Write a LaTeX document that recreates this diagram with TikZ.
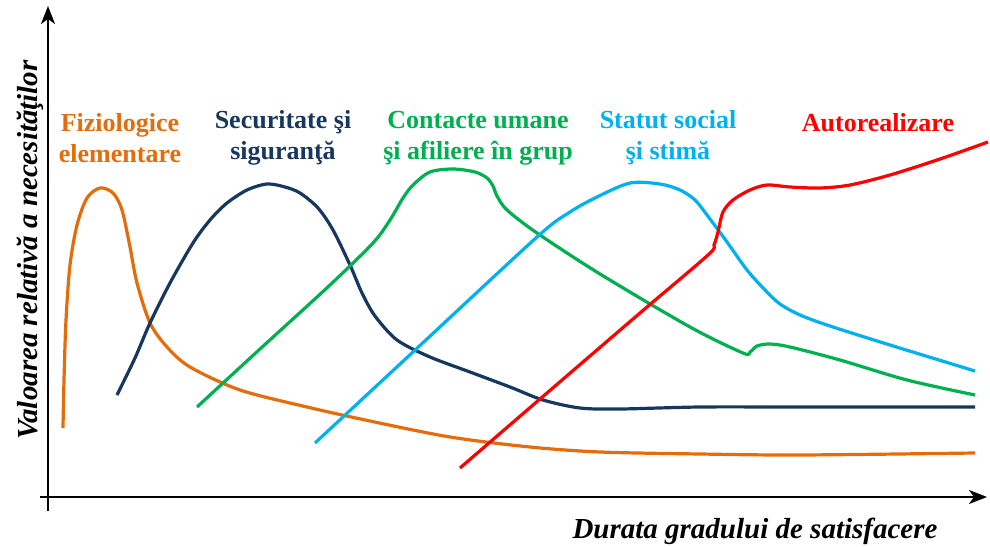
\documentclass[tikz,border=0pt]{standalone}
\usepackage{fontspec}
\setmainfont{Liberation Serif}
\usetikzlibrary{arrows.meta}

\definecolor{cfizio}{HTML}{E46C0A}
\definecolor{csecur}{HTML}{17375E}
\definecolor{ccontact}{HTML}{00B050}
\definecolor{cstatut}{HTML}{00B0F0}
\definecolor{cauto}{HTML}{FF0000}

\tikzset{
  axisline/.style={line width=2.2pt, -{Stealth[length=18pt,width=14pt,inset=5pt]}},
  curve/.style={line width=3.2pt, line cap=butt, line join=round},
  needlabel/.style={font=\fontsize{26}{31}\selectfont\bfseries, align=center},
  axislabel/.style={font=\fontsize{29}{33}\selectfont\bfseries\itshape}
}

\begin{document}
\begin{tikzpicture}[x=1pt,y=-1pt]
    \useasboundingbox (0,0) rectangle (990,546);

    %axes
    \coordinate (ystart) at (48,511);
    \coordinate (yend) at (48,6);
    \coordinate (xstart) at (40,497);
    \coordinate (xend) at (987,497);
    \draw[axisline] (ystart) -- (yend);
    \draw[axisline] (xstart) -- (xend);
    \node[axislabel, rotate=90, anchor=base] (ylabel) at (37,250) {Valoarea relativă a necesităţilor};
    \node[axislabel, anchor=base] (xlabel) at (755,538) {Durata gradului de satisfacere};

    %curves
    \draw[curve, cfizio] plot[smooth, tension=0.5] coordinates {(63,428) (64,380) (66,320) (70,265) (77,225) (87,198) (100,188) (113,193) (122,210) (130,247) (137,283) (150,323) (167,347) (190,367) (240,390) (307,407) (370,421) (450,437) (530,447) (600,452) (700,454) (800,455) (975,453)};
    \draw[curve, csecur] plot[smooth, tension=0.5] coordinates {(117,395) (135,358) (150,323) (170,283) (193,243) (210,220) (227,203) (247,190) (267,184) (285,187) (300,193) (318,208) (333,230) (350,265) (362,293) (375,316) (397,340) (430,357) (470,372) (510,387) (543,400) (580,408) (620,409) (700,407) (800,407) (975,407)};
    \draw[curve, ccontact] plot[smooth, tension=0.5] coordinates {(197,407) (260,349) (330,285) (373,243) (390,220) (403,198) (413,185) (430,172) (453,169) (475,172) (487,178) (493,186) (497,196) (507,210) (537,233) (600,274) (690,327) (743,353) (750,352) (757,346) (770,344) (790,347) (840,360) (907,380) (975,395)};
    \draw[curve, cstatut] plot[smooth, tension=0.5] coordinates {(315,443) (413,352) (537,237) (570,212) (597,197) (630,183) (660,184) (680,190) (695,200) (707,215) (727,242) (747,270) (765,290) (780,304) (800,315) (830,326) (890,345) (975,371)};
    \draw[curve, cauto] plot[smooth, tension=0.5] coordinates {(460,468) (540,399) (640,313) (708,255) (714,245) (718,232) (723,212) (733,200) (750,190) (767,185) (790,187) (820,188) (850,185) (890,175) (940,159) (988,142)};

    % labels
    \node[needlabel, text=cfizio] (fizio) at (120,138) {Fiziologice\\elementare};
    \node[needlabel, text=csecur] (secur) at (283,138) {Securitate şi\\siguranţă};
    \node[needlabel, text=ccontact] (contact) at (478,138) {Contacte umane\\şi afiliere în grup};
    \node[needlabel, text=cstatut] (statut) at (668,138) {Statut social\\şi stimă};
    \node[needlabel, text=cauto, anchor=base] (autoreal) at (878,131) {Autorealizare};
\end{tikzpicture}
\end{document}
